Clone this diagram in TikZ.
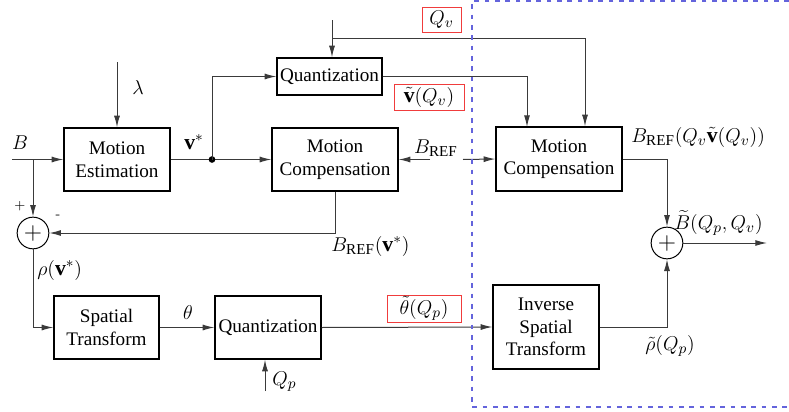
\documentclass[tikz,border=0pt]{standalone}
\usepackage{fontspec}
\setmainfont{Liberation Serif}
\usetikzlibrary{arrows.meta}
\definecolor{dashblue}{HTML}{6464DC}
\definecolor{lblred}{HTML}{F03C3C}
\definecolor{lngray}{HTML}{3A3A3A}
\begin{document}
\begin{tikzpicture}[x=0.6pt,y=-0.6pt,
  font=\fontsize{11.5}{13.5}\selectfont,
  box/.style={draw, line width=0.8pt, inner sep=0pt, align=center},
  sumnode/.style={draw, circle, line width=0.6pt, minimum size=19pt, inner sep=0pt, font=\fontsize{14}{16}\selectfont},
  arr/.style={draw=lngray, line width=0.6pt, -{Latex[length=7pt,width=3.6pt]}},
  ln/.style={draw=lngray, line width=0.6pt},
  redbox/.style={draw=lblred, line width=0.6pt, inner sep=0pt, font=\fontsize{13}{15}\selectfont},
  lbl/.style={inner sep=0pt, font=\fontsize{13}{15}\selectfont}]
\useasboundingbox (0,0) rectangle (789,412);

% blocks
\node[box, minimum width=63.6pt, minimum height=37.8pt] (me) at (117,159.5) {Motion\\Estimation};
\node[box, minimum width=63pt, minimum height=22.2pt] (q1) at (329.5,76.5) {Quantization};
\node[box, minimum width=75.6pt, minimum height=37.8pt] (mc1) at (335,159.5) {Motion\\Compensation};
\node[box, minimum width=75.6pt, minimum height=38.4pt] (mc2) at (559,159) {Motion\\Compensation};
\node[box, minimum width=63pt, minimum height=37.8pt] (st) at (106.5,327.5) {Spatial\\Transform};
\node[box, minimum width=63.6pt, minimum height=37.8pt] (q2) at (268,327.5) {Quantization};
\node[box, minimum width=63.6pt, minimum height=50.4pt] (ist) at (546,327) {Inverse\\Spatial\\Transform};
\node[sumnode] (s1) at (33,233) {$+$};
\node[sumnode] (s2) at (667,243) {$+$};

% coordinates
\coordinate (in) at (12,159.5);
\coordinate (bsplit) at (33,159.5);
\coordinate (lam) at (117,62);
\coordinate (jn) at (212,159.5);
\coordinate (qvtop) at (332,20);
\coordinate (qvjoin) at (332,38);
\coordinate (qvc) at (585,38);
\coordinate (vt) at (527,127);
\coordinate (bref1) at (430,159.5);
\coordinate (bref2) at (463,159.5);
\coordinate (out) at (767,243);
\coordinate (qp) at (265,391);

% connectors
\draw[arr] (in) -- (me.west);
\draw[arr] (bsplit) -- (s1.north);
\draw[arr] (lam) -- (me.north);
\draw[arr] (me.east) -- (mc1.west);
\fill (jn) circle (2pt);
\draw[arr] (jn) |- (q1.west);
\draw[arr] (qvtop) -- (qvtop |- q1.north);
\draw[ln] (qvjoin) -- (qvc);
\draw[arr] (qvc) -- (qvc |- mc2.north);
\draw[arr] (q1.east) -| (vt);
\draw[arr] (bref1) -- (mc1.east);
\draw[arr] (bref2) -- (mc2.west);
\draw[arr] (mc2.east) -| (s2.north);
\draw[arr] (s2.east) -- (out);
\draw[arr] (ist.east) -| (s2.south);
\draw[arr] (q2.east) -- (ist.west);
\draw[arr] (st.east) -- (q2.west);
\draw[arr] (s1.south) |- (st.west);
\draw[arr] (mc1.south) |- (s1.east);
\draw[arr] (qp) -- (qp |- q2.south);

% dashed region
\draw[dashblue, line width=0.7pt, dash pattern=on 2.8pt off 3.4pt] (789,1) -- (472,1) -- (472,407) -- (789,407);

% labels
\node[lbl] (lB) at (20,143) {$B$};
\node[lbl] (llam) at (138,88) {$\lambda$};
\node[lbl] (lv) at (194,142) {$\mathbf{v}^{*}$};
\node[redbox, minimum width=23.4pt, minimum height=15pt] (lqv) at (441.5,19.5) {$Q_v$};
\node[redbox, minimum width=42pt, minimum height=15.6pt] (lvt) at (429,97) {$\tilde{\mathbf{v}}(Q_v)$};
\node[lbl] (lbref) at (436,148) {$B_{\mathrm{REF}}$};
\node[lbl, anchor=west] (lbref2) at (631,137) {$B_{\mathrm{REF}}(Q_v\tilde{\mathbf{v}}(Q_v))$};
\node[lbl, anchor=west] (lbt) at (674,223) {$\widetilde{B}(Q_p,Q_v)$};
\node[lbl, anchor=west] (lbrefv) at (331,246) {$B_{\mathrm{REF}}(\mathbf{v}^{*})$};
\node[lbl, anchor=west] (lrho) at (37,270) {$\rho(\mathbf{v}^{*})$};
\node[lbl] (lth) at (188,313) {$\theta$};
\node[redbox, minimum width=44.4pt, minimum height=16.2pt] (ltht) at (424,308.5) {$\tilde{\theta}(Q_p)$};
\node[lbl, anchor=west] (lrhot) at (645,346) {$\tilde{\rho}(Q_p)$};
\node[lbl, anchor=west] (lqp) at (272,382) {$Q_p$};
\node[lbl, font=\sffamily\footnotesize] (lplus) at (20,206) {+};
\node[lbl, font=\sffamily\footnotesize] (lminus) at (58,217) {-};
\end{tikzpicture}
\end{document}
